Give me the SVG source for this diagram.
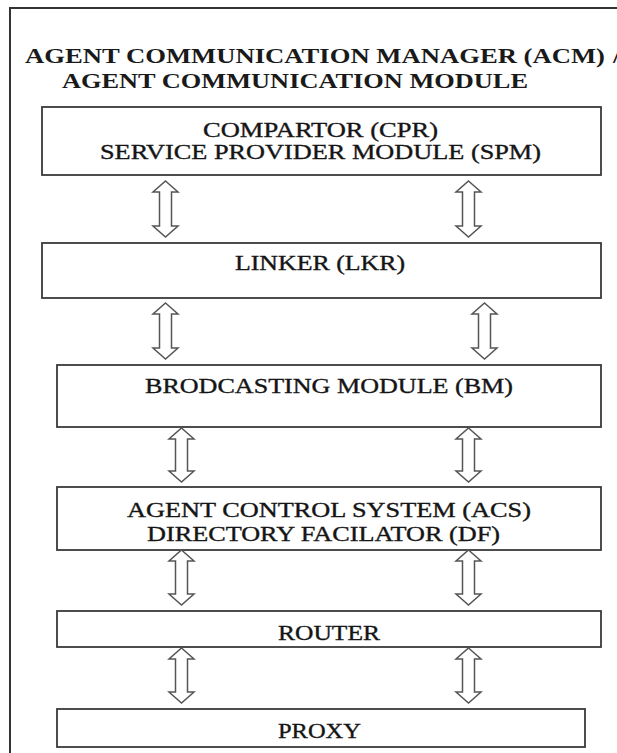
<svg xmlns="http://www.w3.org/2000/svg" width="617" height="753" viewBox="0 0 617 753">
  <defs>
    <style>
      .frame { fill: none; stroke: #333; stroke-width: 2; }
      .box { fill: #fff; stroke: #3a3a3a; stroke-width: 1.8; }
      .arrow { fill: #fff; stroke: #555; stroke-width: 1.5; stroke-linejoin: miter; }
      .title { font-family: "Liberation Serif", "Times New Roman", serif; font-size: 21px; font-weight: bold; fill: #1a1a1a; }
      .label { font-family: "Liberation Serif", "Times New Roman", serif; font-size: 21px; fill: #151515; stroke: #151515; stroke-width: 0.35; }
    </style>
  </defs>

  <rect width="617" height="753" fill="#fff"/>

  <!-- outer frame: left and top edges, open to the right and bottom -->
  <g id="frame">
    <path class="frame" d="M10,753 L10,8 L617,8"/>
    <!-- lettering is drawn 1.25x wide; x positions are in the scaled space -->
    <g transform="scale(1.25,1)">
      <text class="title" y="63"><tspan x="20" textLength="464" lengthAdjust="spacingAndGlyphs">AGENT COMMUNICATION MANAGER (ACM)</tspan><tspan x="490.5">/</tspan></text>
      <text class="title" x="49.6" y="88" textLength="372.8" lengthAdjust="spacingAndGlyphs">AGENT COMMUNICATION MODULE</text>
    </g>
  </g>

  <g id="cpr">
    <rect class="box" x="42" y="107" width="559" height="68"/>
    <g transform="scale(1.25,1)">
      <text class="label" x="162.4" y="137" textLength="188" lengthAdjust="spacingAndGlyphs">COMPARTOR (CPR)</text>
      <text class="label" x="80" y="159" textLength="352.8" lengthAdjust="spacingAndGlyphs">SERVICE PROVIDER MODULE (SPM)</text>
    </g>
  </g>

  <g id="lkr">
    <rect class="box" x="42" y="243" width="559" height="55"/>
    <g transform="scale(1.25,1)">
      <text class="label" x="188" y="270" textLength="136" lengthAdjust="spacingAndGlyphs">LINKER (LKR)</text>
    </g>
  </g>

  <g id="bm">
    <rect class="box" x="57" y="365" width="544" height="62"/>
    <g transform="scale(1.25,1)">
      <text class="label" x="116" y="393" textLength="294.4" lengthAdjust="spacingAndGlyphs">BRODCASTING MODULE (BM)</text>
    </g>
  </g>

  <g id="acs">
    <rect class="box" x="57" y="487" width="544" height="63"/>
    <g transform="scale(1.25,1)">
      <text class="label" x="101.6" y="517" textLength="323.2" lengthAdjust="spacingAndGlyphs">AGENT CONTROL SYSTEM (ACS)</text>
      <text class="label" x="117.6" y="541" textLength="282.4" lengthAdjust="spacingAndGlyphs">DIRECTORY FACILATOR (DF)</text>
    </g>
  </g>

  <g id="router">
    <rect class="box" x="57" y="611" width="544" height="36"/>
    <g transform="scale(1.25,1)">
      <text class="label" x="222.4" y="640" textLength="81.6" lengthAdjust="spacingAndGlyphs">ROUTER</text>
    </g>
  </g>

  <g id="proxy">
    <rect class="box" x="57" y="709" width="528" height="38"/>
    <g transform="scale(1.25,1)">
      <text class="label" x="222.4" y="738" textLength="66.4" lengthAdjust="spacingAndGlyphs">PROXY</text>
    </g>
  </g>

  <!-- hollow double-headed block arrows between layers -->
  <g id="connectors">
    <path class="arrow" d="M165.5,181 L178,192 L171.5,192 L171.5,226 L178,226 L165.5,237 L153,226 L159.5,226 L159.5,192 L153,192 Z"/>
    <path class="arrow" d="M468.5,181 L481,192 L474.5,192 L474.5,226 L481,226 L468.5,237 L456,226 L462.5,226 L462.5,192 L456,192 Z"/>

    <path class="arrow" d="M165.5,303 L178,314 L171.5,314 L171.5,348 L178,348 L165.5,359 L153,348 L159.5,348 L159.5,314 L153,314 Z"/>
    <path class="arrow" d="M484.5,303 L497,314 L490.5,314 L490.5,348 L497,348 L484.5,359 L472,348 L478.5,348 L478.5,314 L472,314 Z"/>

    <path class="arrow" d="M181.5,428 L194,439 L187.5,439 L187.5,471 L194,471 L181.5,482 L169,471 L175.5,471 L175.5,439 L169,439 Z"/>
    <path class="arrow" d="M468.5,428 L481,439 L474.5,439 L474.5,471 L481,471 L468.5,482 L456,471 L462.5,471 L462.5,439 L456,439 Z"/>

    <path class="arrow" d="M181.5,550 L194,561 L187.5,561 L187.5,594 L194,594 L181.5,605 L169,594 L175.5,594 L175.5,561 L169,561 Z"/>
    <path class="arrow" d="M468.5,550 L481,561 L474.5,561 L474.5,594 L481,594 L468.5,605 L456,594 L462.5,594 L462.5,561 L456,561 Z"/>

    <path class="arrow" d="M181.5,648 L194,659 L187.5,659 L187.5,692 L194,692 L181.5,703 L169,692 L175.5,692 L175.5,659 L169,659 Z"/>
    <path class="arrow" d="M468.5,648 L481,659 L474.5,659 L474.5,692 L481,692 L468.5,703 L456,692 L462.5,692 L462.5,659 L456,659 Z"/>
  </g>
</svg>
